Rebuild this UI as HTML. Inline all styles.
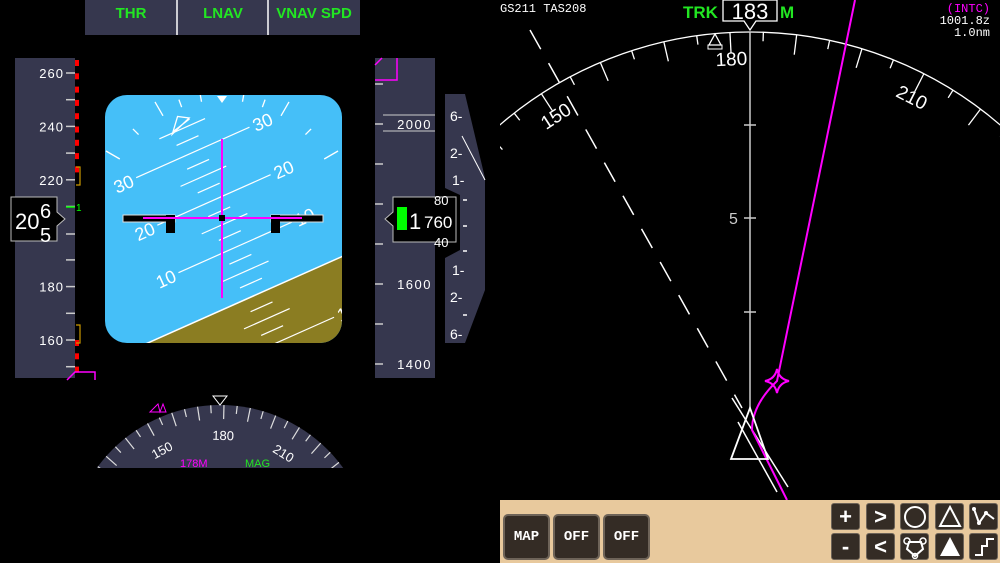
<!DOCTYPE html>
<html><head><meta charset="utf-8"><style>
html,body{margin:0;padding:0;background:#000;width:1000px;height:563px;overflow:hidden}
svg{display:block}
text{font-family:"Liberation Sans",sans-serif}
.m{font-family:"Liberation Mono",monospace}
.btn{position:absolute;background:#342c25;border:2px solid #6d6358;border-radius:5px;color:#fff;font:bold 14px "Liberation Mono",monospace;display:flex;align-items:center;justify-content:center;box-sizing:border-box}
.sb{position:absolute;background:#342c25;border:1px solid #6d6358;border-radius:3px;box-sizing:border-box;color:#fff;display:flex;align-items:center;justify-content:center;font:bold 22px "Liberation Sans",sans-serif}
</style></head><body>
<div style="position:relative;width:1000px;height:563px;overflow:hidden">
<svg id="s" width="1000" height="563" viewBox="0 0 1000 563" xmlns="http://www.w3.org/2000/svg">
<defs>
<clipPath id="att"><rect x="105" y="95" width="237" height="248" rx="22"/></clipPath>
<clipPath id="hdg"><rect x="0" y="380" width="500" height="88"/></clipPath>
<clipPath id="nav"><rect x="500" y="0" width="500" height="500"/></clipPath>
</defs>
<rect x="85" y="0" width="275" height="35" fill="#36374e"/>
<line x1="177" y1="0" x2="177" y2="35" stroke="#fff" stroke-width="1.5"/>
<line x1="268" y1="0" x2="268" y2="35" stroke="#fff" stroke-width="1.5"/>
<text x="131" y="18" fill="#22e622" font-size="15" font-weight="bold" text-anchor="middle">THR</text>
<text x="223" y="18" fill="#22e622" font-size="15" font-weight="bold" text-anchor="middle">LNAV</text>
<text x="314" y="18" fill="#22e622" font-size="15" font-weight="bold" text-anchor="middle">VNAV  SPD</text>
<rect x="15" y="58" width="60" height="320" fill="#36374e"/>
<g id="spd"></g>
<g clip-path="url(#att)">
<rect x="100" y="90" width="250" height="260" fill="#45bff8"/>
<g transform="rotate(-24 222 218)">
<rect x="0" y="302" width="500" height="300" fill="#8b7d22"/>
<line x1="0" y1="302" x2="500" y2="302" stroke="#fff" stroke-width="1.5"/>
<g id="ladder" stroke="#fff" stroke-width="1.2" fill="#fff"></g>
</g>
<g id="roll" stroke="#fff" stroke-width="1.3"></g>
<polygon points="217,96 227,96 222,103" fill="#fff"/>
</g>
<rect x="123" y="215" width="52" height="7" fill="#000" stroke="#ddd" stroke-width="1"/>
<rect x="166" y="215" width="9" height="18" fill="#000"/>
<rect x="271" y="215" width="52" height="7" fill="#000" stroke="#ddd" stroke-width="1"/>
<rect x="271" y="215" width="9" height="18" fill="#000"/>
<line x1="222" y1="139" x2="222" y2="298" stroke="#f0f" stroke-width="2"/>
<line x1="143" y1="218" x2="302" y2="218" stroke="#f0f" stroke-width="2"/>
<rect x="219" y="215" width="6" height="6" fill="#000"/>
<polygon points="11,197 57,197 57,212 65,219 57,226 57,241 11,241" fill="#000" stroke="#bbb" stroke-width="1"/>
<text x="15" y="229" fill="#fff" font-size="22">20</text><text x="40" y="218" fill="#fff" font-size="20">6</text>
<text x="40" y="242" fill="#fff" font-size="20">5</text>
<rect x="375" y="58" width="60" height="320" fill="#36374e"/>
<g id="alt"></g>
<polygon points="445,94 465,94 485,178 485,290 465,343 445,343 445,258 460,250 460,195 445,188" fill="#36374e"/>
<line x1="462" y1="136" x2="485" y2="180" stroke="#fff" stroke-width="1"/>
<g fill="#fff" font-size="14">
<text x="450" y="121">6-</text><text x="450" y="158">2-</text><text x="452" y="185">1-</text>
<text x="452" y="275">1-</text><text x="450" y="302">2-</text><text x="450" y="339">6-</text></g>
<g stroke="#fff" stroke-width="1.5"><line x1="463" y1="200" x2="467" y2="200"/><line x1="463" y1="226" x2="467" y2="226"/><line x1="463" y1="251" x2="467" y2="251"/><line x1="463" y1="315" x2="467" y2="315"/></g>
<polygon points="393,197 456,197 456,242 393,242 393,226 385,219 393,212" fill="#000" stroke="#bbb" stroke-width="1"/>
<rect x="397" y="207" width="10" height="23" fill="#0f0"/>
<text x="409" y="229" fill="#fff" font-size="22">1</text>
<text x="424" y="228" fill="#fff" font-size="17">760</text>
<text x="434" y="205" fill="#fff" font-size="13">80</text>
<text x="434" y="247" fill="#fff" font-size="13">40</text>
<g clip-path="url(#hdg)">
<circle cx="220" cy="557" r="152" fill="#36374e"/>
<g id="hdgt"></g>
</g>
<polygon points="213,396 227,396 220,405" fill="none" stroke="#fff" stroke-width="1"/>
<polygon points="150,412 158,404 160,412 163,404 166,412" fill="none" stroke="#f0f" stroke-width="1"/>
<text x="180" y="467" fill="#f0f" font-size="11">178M</text>
<text x="245" y="467" fill="#22e622" font-size="11">MAG</text>
<g clip-path="url(#nav)">
<g id="navt" stroke="#fff" stroke-width="1.3" fill="none"></g>
<line x1="750" y1="32" x2="750" y2="408" stroke="#ccc" stroke-width="1.5"/>
<g stroke="#ccc" stroke-width="1.5"><line x1="744" y1="125" x2="756" y2="125"/><line x1="744" y1="218" x2="756" y2="218"/><line x1="744" y1="312" x2="756" y2="312"/></g>
<text x="729" y="224" fill="#ccc" font-size="16">5</text>
<line x1="530" y1="30" x2="742" y2="408" stroke="#fff" stroke-width="1.5" stroke-dasharray="22,16"/>
<line x1="732" y1="398" x2="788" y2="487" stroke="#fff" stroke-width="1.5"/>
<line x1="738" y1="422" x2="777" y2="492" stroke="#fff" stroke-width="1.5"/>
<path d="M855,0 L777,381 Q752,405 752,430 L787,500" stroke="#f0f" stroke-width="2" fill="none"/>
<path d="M777,369 Q779,379 789,381 Q779,383 777,393 Q775,383 765,381 Q775,379 777,369Z" stroke="#f0f" stroke-width="2" fill="none"/>
<polygon points="750,408 731,459 768,459" fill="none" stroke="#fff" stroke-width="1.8"/>
</g>
<polygon points="709,45 721,45 715,34" fill="none" stroke="#fff" stroke-width="1.3"/>
<rect x="708" y="45" width="14" height="4" fill="none" stroke="#fff" stroke-width="1"/>
<text x="500" y="12" fill="#fff" font-size="12" class="m">GS211 TAS208</text>
<text x="683" y="18" fill="#22e622" font-size="17" font-weight="bold">TRK</text>
<polygon points="723,0 777,0 777,21 756,21 750,30 744,21 723,21" fill="#000" stroke="#fff" stroke-width="1.3"/>
<text x="750" y="19" fill="#fff" font-size="22" text-anchor="middle">183</text>
<text x="780" y="18" fill="#22e622" font-size="17" font-weight="bold">M</text>
<text x="990" y="12" fill="#f0f" font-size="12" text-anchor="end" class="m">(INTC)</text>
<text x="990" y="24" fill="#fff" font-size="12" text-anchor="end" class="m">1001.8z</text>
<text x="990" y="36" fill="#fff" font-size="12" text-anchor="end" class="m">1.0nm</text>
<rect x="500" y="500" width="500" height="63" fill="#e8c99d"/>
</svg>
<div class="btn" style="left:503px;top:514px;width:47px;height:46px">MAP</div>
<div class="btn" style="left:553px;top:514px;width:47px;height:46px">OFF</div>
<div class="btn" style="left:603px;top:514px;width:47px;height:46px">OFF</div>
<div class="sb" style="left:831px;top:503px;width:29px;height:27px">+</div>
<div class="sb" style="left:866px;top:503px;width:29px;height:27px">&gt;</div>
<div class="sb" style="left:900px;top:503px;width:29px;height:27px"><svg width="24" height="24"><circle cx="12" cy="12" r="10" fill="none" stroke="#fff" stroke-width="2"/></svg></div>
<div class="sb" style="left:935px;top:503px;width:29px;height:27px"><svg width="24" height="24"><polygon points="12,2 22,21 2,21" fill="none" stroke="#fff" stroke-width="2"/></svg></div>
<div class="sb" style="left:969px;top:503px;width:29px;height:27px"><svg width="26" height="24"><polyline points="3,4 8,18 15,8 23,14" fill="none" stroke="#fff" stroke-width="2"/><circle cx="3" cy="4" r="2" fill="#fff"/><circle cx="8" cy="18" r="2" fill="#fff"/><circle cx="15" cy="8" r="2" fill="#fff"/></svg></div>
<div class="sb" style="left:831px;top:533px;width:29px;height:27px">-</div>
<div class="sb" style="left:866px;top:533px;width:29px;height:27px">&lt;</div>
<div class="sb" style="left:900px;top:533px;width:29px;height:27px"><svg width="24" height="24"><polygon points="6,7 18,7 20,14 12,21 4,14" fill="none" stroke="#fff" stroke-width="2"/><circle cx="4" cy="6" r="3" fill="none" stroke="#fff" stroke-width="1.5"/><circle cx="20" cy="6" r="3" fill="none" stroke="#fff" stroke-width="1.5"/><circle cx="12" cy="21" r="2.5" fill="none" stroke="#fff" stroke-width="1.5"/></svg></div>
<div class="sb" style="left:935px;top:533px;width:29px;height:27px"><svg width="24" height="24"><polygon points="12,2 22,21 2,21" fill="#fff"/></svg></div>
<div class="sb" style="left:969px;top:533px;width:29px;height:27px"><svg width="24" height="24"><polyline points="3,20 10,20 10,11 15,11 15,4 22,4" fill="none" stroke="#fff" stroke-width="2"/></svg></div>
</div>
<script>
var NS="http://www.w3.org/2000/svg";
function el(p,t,a,txt){var e=document.createElementNS(NS,t);for(var k in a)e.setAttribute(k,a[k]);if(txt!=null)e.textContent=txt;p.appendChild(e);return e;}
var g=document.getElementById('spd');
for(var v=150;v<=270;v+=10){var y=73+(260-v)*2.67;if(y<58||y>378)continue;
 if(v%20==0&&v!=200)el(g,'text',{x:64,y:y+5,fill:'#fff','font-size':13,'text-anchor':'end','letter-spacing':'1'},v);
 if(v!=200)el(g,'line',{x1:66,y1:y,x2:75,y2:y,stroke:'#ccc','stroke-width':1.5});}
for(var y=60;y<168;y+=13.3)el(g,'rect',{x:75,y:y,width:4,height:6,fill:'#f00'});
for(var y=340;y<372;y+=13.3)el(g,'rect',{x:75,y:y,width:4,height:6,fill:'#f00'});
el(g,'path',{d:'M76,167 h4 v18 h-4 M76,325 h4 v18 h-4',stroke:'#c90',fill:'none','stroke-width':1.2});
el(g,'line',{x1:66,y1:207,x2:75,y2:207,stroke:'#0f0','stroke-width':1.5});
el(g,'text',{x:76,y:211,fill:'#0f0','font-size':10},'1');
el(g,'line',{x1:66,y1:234,x2:75,y2:234,stroke:'#ccc','stroke-width':1.5});
el(g,'path',{d:'M67,380 L75,372 H95 V380',stroke:'#f0f',fill:'none','stroke-width':1.5});
var a=document.getElementById('alt');
[84,164,204,244,284,324,364].forEach(function(y){el(a,'line',{x1:375,y1:y,x2:383,y2:y,stroke:'#ccc','stroke-width':1.5});});
el(a,'line',{x1:375,y1:124,x2:383,y2:124,stroke:'#ccc','stroke-width':1.5});
el(a,'line',{x1:383,y1:115,x2:435,y2:115,stroke:'#ccc','stroke-width':1});
el(a,'line',{x1:383,y1:131,x2:435,y2:131,stroke:'#ccc','stroke-width':1});
el(a,'text',{x:432,y:129,fill:'#fff','font-size':13,'text-anchor':'end','letter-spacing':'1.5'},'2000');
el(a,'text',{x:432,y:289,fill:'#fff','font-size':13,'text-anchor':'end','letter-spacing':'1.5'},'1600');
el(a,'text',{x:432,y:369,fill:'#fff','font-size':13,'text-anchor':'end','letter-spacing':'1.5'},'1400');
el(a,'path',{d:'M375,65 L382,58 M375,80 H397 V58',stroke:'#f0f',fill:'none','stroke-width':1.5});
var L=document.getElementById('ladder');
for(var p=-15;p<=35;p+=2.5){var y=218+(16.2-p)*5.2;var w;
 if(p%10==0)w=62;else if(p%5==0)w=25;else w=12;if(p==0)continue;
 el(L,'line',{x1:222-w,y1:y,x2:222+w,y2:y});
 if(p%10==0){var lab=Math.abs(p);
  el(L,'text',{x:222-w-4,y:y+7,'font-size':18,'text-anchor':'end',stroke:'none'},lab);
  el(L,'text',{x:222+w+4,y:y+7,'font-size':18,stroke:'none'},lab);}}
var R=document.getElementById('roll');
[-60,-45,-30,-20,-10,10,20,30,45,60].forEach(function(d){var r=Math.PI*d/180,cx=222,cy=218,r1=118,r2=(Math.abs(d)==30||Math.abs(d)==60)?134:126;
 el(R,'line',{x1:cx+r1*Math.sin(r),y1:cy-r1*Math.cos(r),x2:cx+r2*Math.sin(r),y2:cy-r2*Math.cos(r)});});
el(R,'path',{d:'M168,130 l12,-14 l10,6 z M170,128 l20,-5',transform:'rotate(-24 180 122)',fill:'none'});
var H=document.getElementById('hdgt');
for(var b=90;b<=270;b+=5){var r=Math.PI*(b-178.5)/180,cx=220,cy=557,R0=152,len=(b%10==0)?14:8;
 el(H,'line',{x1:cx+R0*Math.sin(r),y1:cy-R0*Math.cos(r),x2:cx+(R0-len)*Math.sin(r),y2:cy-(R0-len)*Math.cos(r),stroke:'#ddd','stroke-width':1.2});
 if(b%30==0){var rr=R0-30,x=cx+rr*Math.sin(r),y=cy-rr*Math.cos(r);
  el(H,'text',{x:x,y:y+5,fill:'#fff','font-size':13,'text-anchor':'middle',transform:'rotate('+(b-178.5)+' '+x+' '+y+')'},b);}}
var N=document.getElementById('navt');
el(N,'circle',{cx:750,cy:415,r:383});
for(var b=90;b<=280;b+=5){var r=Math.PI*(b-183)/180,cx=750,cy=415,R0=383,len=(b%10==0)?20:9;
 el(N,'line',{x1:cx+R0*Math.sin(r),y1:cy-R0*Math.cos(r),x2:cx+(R0-len)*Math.sin(r),y2:cy-(R0-len)*Math.cos(r)});
 if(b%30==0){var rr=R0-26,x=cx+rr*Math.sin(r),y=cy-rr*Math.cos(r);
  el(N,'text',{x:x,y:y+7,fill:'#fff',stroke:'none','font-size':19,'text-anchor':'middle',transform:'rotate('+(b-183)+' '+x+' '+y+')'},b);}}
</script>
</body></html>
